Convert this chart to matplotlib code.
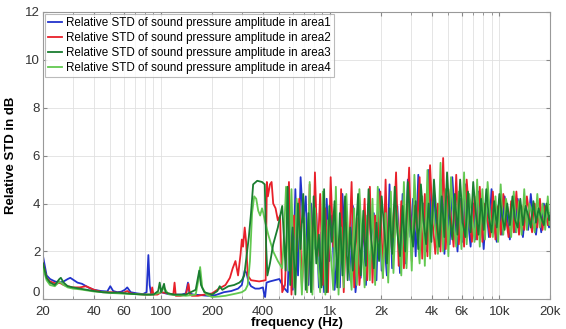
import matplotlib
matplotlib.use("Agg")
import matplotlib.pyplot as plt
from matplotlib.ticker import FixedLocator, NullFormatter

plt.rcParams['font.family'] = ['Liberation Sans', 'DejaVu Sans']

labels = ["Relative STD of sound pressure amplitude in area1",
          "Relative STD of sound pressure amplitude in area2",
          "Relative STD of sound pressure amplitude in area3",
          "Relative STD of sound pressure amplitude in area4"]
colors = ["#2233cc", "#e8202a", "#1a7d30", "#62c850"]

xticks = [20, 40, 60, 100, 200, 400, 1000, 2000, 4000, 6000, 10000, 20000]
xticklabels = ["20", "40", "60", "100", "200", "400", "1k", "2k", "4k", "6k", "10k", "20k"]
yticks = [0, 2, 4, 6, 8, 10, 12]

# ---- low-frequency parts (per series) ----
f1_lo = [20, 20.5, 21, 22, 23.5, 25, 26.5, 28, 29, 30.5, 32, 34, 37, 40, 44, 48, 50, 52, 55, 58,
         61, 63, 66, 72, 78, 82, 84, 85.5, 87, 90, 96, 100, 110, 120, 132, 140, 144, 147, 155, 170,
         190, 210, 235, 260, 285, 300, 312, 320, 328, 340, 360, 380, 400, 408, 412, 420, 440, 470, 500, 530]
v1_lo = [1.8, 1.4, 1.0, 0.85, 0.75, 0.7, 0.75, 0.85, 0.9, 0.8, 0.7, 0.65, 0.5, 0.4, 0.35, 0.33, 0.55, 0.35, 0.3, 0.32,
         0.4, 0.5, 0.3, 0.25, 0.22, 0.3, 1.85, 0.6, 0.25, 0.22, 0.25, 0.3, 0.22, 0.2, 0.2, 0.25, 0.7, 0.25, 0.2, 0.18,
         0.15, 0.18, 0.3, 0.35, 0.45, 0.6, 1.2, 1.1, 0.75, 0.55, 0.45, 0.45, 0.5, 0.15, 0.1, 0.7, 0.75, 0.8, 0.85, 0.5]

f2_lo = [20, 21, 22, 24, 25, 26.5, 28, 30, 33, 36, 40, 45, 50, 55, 60, 63, 66, 72, 80, 87,
         88.5, 90, 95, 100, 110, 118, 120, 122, 130, 140, 145, 148, 152, 165, 180, 200, 220, 240, 255, 265,
         275, 285, 295, 300, 305, 312, 318, 325, 340, 380, 415, 422, 428, 440, 450, 460, 475, 490, 505, 520, 540]
v2_lo = [1.5, 0.9, 0.75, 0.65, 0.7, 0.6, 0.55, 0.5, 0.5, 0.55, 0.4, 0.3, 0.3, 0.28, 0.28, 0.35, 0.25, 0.22, 0.2, 0.2,
         0.5, 0.2, 0.2, 0.3, 0.25, 0.2, 0.7, 0.15, 0.15, 0.2, 0.65, 0.2, 0.15, 0.15, 0.2, 0.25, 0.45, 0.6, 0.9, 1.3,
         1.6, 1.0, 1.9, 2.5, 2.2, 3.0, 2.4, 1.0, 0.8, 0.75, 0.8, 4.9, 4.3, 4.8, 4.9, 4.0, 3.8, 3.3, 3.5, 0.3, 0.6]

f3_lo = [20, 21, 22, 23.5, 25, 25.5, 26.5, 28, 30, 33, 36, 40, 45, 50, 56, 63, 70, 80, 90, 96,
         98, 100, 104, 106, 110, 120, 140, 160, 168, 172, 180, 200, 215, 222, 230, 250, 270, 290, 300, 310,
         320, 330, 340, 350, 370, 395, 410, 418, 425, 440, 460, 490, 520, 545]
v3_lo = [1.5, 0.9, 0.7, 0.6, 0.85, 0.9, 0.7, 0.55, 0.5, 0.45, 0.4, 0.35, 0.3, 0.28, 0.28, 0.25, 0.22, 0.2, 0.2, 0.35,
         0.7, 0.3, 0.65, 0.3, 0.25, 0.2, 0.2, 0.4, 1.2, 0.6, 0.3, 0.2, 0.35, 0.55, 0.4, 0.55, 0.6, 0.7, 0.8, 1.0,
         1.8, 2.6, 3.6, 4.8, 4.95, 4.9, 4.8, 2.2, 1.0, 1.5, 2.3, 3.0, 3.9, 1.2]

f4_lo = [20, 21, 22, 23.5, 25, 26.5, 28, 30, 33, 36, 40, 45, 50, 56, 63, 70, 80, 90, 100, 104,
         110, 120, 140, 160, 166, 170, 175, 185, 200, 220, 240, 260, 280, 300, 315, 325, 335, 345, 355, 365,
         375, 385, 395, 402, 410, 430, 460, 490, 520, 535, 548]
v4_lo = [1.3, 0.8, 0.6, 0.55, 0.75, 0.6, 0.5, 0.45, 0.42, 0.38, 0.33, 0.3, 0.27, 0.25, 0.23, 0.22, 0.2, 0.2, 0.3, 0.5,
         0.22, 0.18, 0.15, 0.2, 0.8, 1.35, 0.5, 0.2, 0.1, 0.12, 0.15, 0.2, 0.25, 0.3, 0.4, 0.6, 1.6, 3.6, 4.3, 4.2,
         3.7, 3.5, 3.8, 3.6, 3.3, 2.7, 2.0, 1.6, 1.3, 3.0, 4.7]

# ---- high-frequency parts: two sets of sample frequencies ----
f_hi_a = [560, 580, 600, 622, 645, 668, 692, 717, 743, 770, 798, 827, 857, 888, 920, 953, 988, 1024, 1061, 1100,
          1140, 1181, 1224, 1268, 1314, 1362, 1411, 1462, 1515, 1570, 1627, 1686, 1747, 1811, 1877, 1945, 2015, 2088, 2164, 2243,
          2324, 2408, 2496, 2586, 2680, 2777, 2878, 2982, 3091, 3203, 3319, 3439, 3564, 3693, 3827, 3966, 4110, 4259, 4413, 4573,
          4739, 4911, 5089, 5274, 5465, 5663, 5869, 6082, 6302, 6531, 6768, 7013, 7268, 7531, 7805, 8088, 8381, 8685, 9000, 9327,
          9665, 10016, 10379, 10755, 11146, 11550, 11969, 12403, 12853, 13319, 13802, 14303, 14822, 15359, 15917, 16494, 17092, 17712, 18355, 19021,
          19710, 20000]
f_hi_b = [570, 590, 611, 633, 656, 680, 704, 730, 756, 784, 812, 842, 872, 904, 936, 970, 1006, 1042, 1080, 1120,
          1160, 1202, 1246, 1291, 1338, 1386, 1436, 1488, 1542, 1598, 1656, 1716, 1779, 1844, 1911, 1980, 2051, 2126, 2203, 2283,
          2366, 2452, 2541, 2633, 2728, 2827, 2930, 3036, 3147, 3261, 3379, 3501, 3628, 3760, 3896, 4038, 4184, 4336, 4493, 4656,
          4825, 5000, 5181, 5369, 5564, 5766, 5975, 6192, 6416, 6649, 6890, 7140, 7399, 7668, 7946, 8234, 8532, 8842, 9163, 9495,
          9840, 10197, 10566, 10950, 11347, 11759, 12185, 12627, 13085, 13560, 14052, 14561, 15089, 15637, 16204, 16791, 17400, 18031, 18686, 19364,
          19855, 20000]
v1_hi = [0.3, 3.8, 0.4, 4.6, 1.0, 5.1, 3.2, 4.3, 0.6, 4.0,
         2.1, 3.6, 0.5, 2.8, 0.3, 4.2, 1.6, 3.5, 0.4, 1.9,
         0.5, 4.4, 2.2, 2.6, 0.8, 3.9, 0.3, 1.5, 0.9, 3.3,
         0.6, 4.0, 2.5, 3.6, 0.8, 4.6, 1.2, 2.4, 1.0, 4.8,
         1.3, 3.1, 3.9, 1.1, 4.4, 1.5, 5.0, 2.6, 4.2, 1.8,
         5.2, 3.0, 4.0, 2.0, 5.4, 2.9, 4.5, 2.2, 3.3, 5.0,
         1.9, 4.3, 2.3, 5.1, 3.4, 2.0, 4.2, 2.4, 4.8, 3.3,
         2.2, 4.0, 2.5, 4.5, 3.6, 2.1, 3.9, 2.6, 4.6, 3.2,
         2.4, 4.1, 2.7, 4.3, 3.5, 2.5, 3.9, 2.8, 4.2, 3.4,
         2.6, 3.8, 2.9, 4.4, 3.3, 2.7, 3.7, 2.8, 4.0, 3.4,
         3.0, 3.5]
v2_hi = [4.9, 0.2, 3.5, 2.0, 4.2, 0.5, 2.5, 0.3, 4.8, 0.4,
         5.3, 1.8, 4.4, 0.6, 3.8, 0.3, 5.1, 2.2, 2.9, 0.5,
         4.6, 0.3, 3.2, 1.9, 4.9, 0.5, 3.4, 0.6, 2.0, 4.2,
         0.8, 4.7, 0.7, 3.5, 2.4, 4.5, 0.9, 5.0, 1.1, 3.8,
         2.6, 5.3, 1.4, 4.1, 1.3, 3.0, 5.5, 1.6, 3.9, 2.8,
         5.1, 1.7, 4.4, 1.8, 5.6, 3.2, 1.9, 4.0, 2.0, 5.9,
         2.1, 4.6, 3.4, 2.2, 5.2, 2.3, 4.2, 2.2, 5.0, 3.5,
         2.4, 4.3, 2.5, 4.7, 2.4, 4.0, 3.3, 2.6, 4.5, 2.5,
         3.9, 2.7, 4.4, 3.4, 2.6, 4.1, 2.8, 4.5, 2.7, 3.9,
         2.9, 4.3, 3.5, 2.8, 4.0, 3.0, 4.2, 2.9, 3.9, 3.1,
         3.6, 3.4]
v3_hi = [4.7, 0.6, 3.0, 0.2, 4.0, 2.1, 4.4, 0.4, 3.6, 0.3,
         4.3, 1.5, 2.7, 0.5, 4.6, 0.3, 3.9, 2.4, 4.1, 0.5,
         3.6, 1.0, 4.3, 0.8, 3.0, 1.2, 2.5, 4.4, 1.0, 3.7,
         1.4, 4.6, 2.6, 1.3, 3.2, 1.6, 4.3, 2.9, 1.5, 3.8,
         1.9, 4.7, 2.8, 1.8, 3.9, 2.0, 4.9, 3.1, 2.2, 4.1,
         2.1, 4.8, 3.3, 2.3, 4.0, 2.4, 5.0, 3.4, 2.2, 4.3,
         2.6, 5.3, 3.5, 2.5, 4.4, 2.7, 5.0, 3.2, 2.6, 4.5,
         2.8, 4.9, 3.6, 2.7, 4.2, 2.9, 4.6, 3.4, 2.8, 4.1,
         3.0, 4.4, 3.5, 2.9, 4.0, 3.1, 4.3, 3.3, 3.0, 4.2,
         3.1, 3.9, 3.5, 3.0, 4.1, 3.2, 3.8, 3.4, 3.1, 4.0,
         3.3, 3.5]
v4_hi = [1.2, 4.6, 0.5, 4.2, 2.6, 0.2, 3.4, 0.3, 4.9, 0.2,
         3.8, 1.7, 0.3, 4.5, 0.2, 3.3, 2.0, 0.4, 4.7, 0.2,
         3.0, 0.5, 4.4, 1.8, 0.4, 3.8, 0.6, 4.6, 2.3, 0.5,
         3.5, 0.8, 4.2, 0.6, 4.7, 2.5, 0.9, 3.6, 0.7, 4.5,
         1.1, 3.8, 2.7, 1.0, 4.9, 1.3, 4.0, 1.2, 5.2, 3.0,
         1.5, 4.3, 1.4, 5.4, 1.7, 4.1, 2.9, 1.9, 5.7, 2.0,
         4.6, 1.8, 5.1, 3.3, 2.2, 4.5, 2.1, 5.3, 2.3, 4.4,
         3.5, 2.4, 5.0, 2.2, 4.6, 2.5, 4.9, 3.4, 2.6, 4.3,
         2.4, 4.8, 2.7, 4.2, 3.6, 2.6, 4.5, 2.8, 4.1, 2.7,
         4.6, 2.9, 4.0, 3.5, 2.8, 4.4, 3.0, 4.0, 2.9, 4.3,
         3.1, 3.6]

series = [(f1_lo, v1_lo, f_hi_a, v1_hi), (f2_lo, v2_lo, f_hi_b, v2_hi),
          (f3_lo, v3_lo, f_hi_a, v3_hi), (f4_lo, v4_lo, f_hi_b, v4_hi)]
zorders = [2, 3, 5, 4]

fig = plt.figure(figsize=(5.66, 3.29), dpi=100)
ax = fig.add_axes([0.076, 0.09, 0.896, 0.874])

for (flo, vlo, fhi, vhi), lab, col, z in zip(series, labels, colors, zorders):
    ax.plot(list(flo) + list(fhi), list(vlo) + list(vhi), color=col, lw=1.3, label=lab, zorder=z)

ax.set_xscale('log')
ax.set_xlim(20, 20000)
ax.set_ylim(0, 12)
ax.xaxis.set_major_locator(FixedLocator(xticks))
ax.set_xticklabels(xticklabels)
minor = [m * d for d in (10, 100, 1000, 10000) for m in range(1, 10)]
minor = [x for x in minor if 20 <= x <= 20000 and x not in xticks]
ax.xaxis.set_minor_locator(FixedLocator(minor))
ax.xaxis.set_minor_formatter(NullFormatter())
ax.set_yticks(yticks)

ax.grid(True, which='both', axis='x', color='#e0e0e0', lw=0.6)
ax.grid(True, which='major', axis='y', color='#e0e0e0', lw=0.6)
ax.set_axisbelow(True)
for s in ax.spines.values():
    s.set_color('#999999')
    s.set_linewidth(0.8)
ax.tick_params(which='both', direction='in', top=True, right=True, colors='#888888',
               labelcolor='#333333', labelsize=9.5, length=3, pad=2)
ax.tick_params(axis='x', which='major', pad=5)
ax.tick_params(which='minor', length=2)
ax.get_yticklabels()[0].set_verticalalignment('bottom')

ax.set_xlabel('frequency (Hz)', fontsize=9.5, fontweight='bold', labelpad=-1)
ax.set_ylabel('Relative STD in dB', fontsize=9.5, fontweight='bold', labelpad=6)

leg = ax.legend(loc='upper left', fontsize=8.4, handlelength=1.2, handletextpad=0.3,
                borderaxespad=0.15, borderpad=0.3, labelspacing=0.25, frameon=True, fancybox=False)
leg.get_frame().set_edgecolor('#aaaaaa')
leg.get_frame().set_linewidth(0.8)
for ln in leg.get_lines():
    ln.set_linewidth(1.3)

fig.savefig('out.png', dpi=100)
